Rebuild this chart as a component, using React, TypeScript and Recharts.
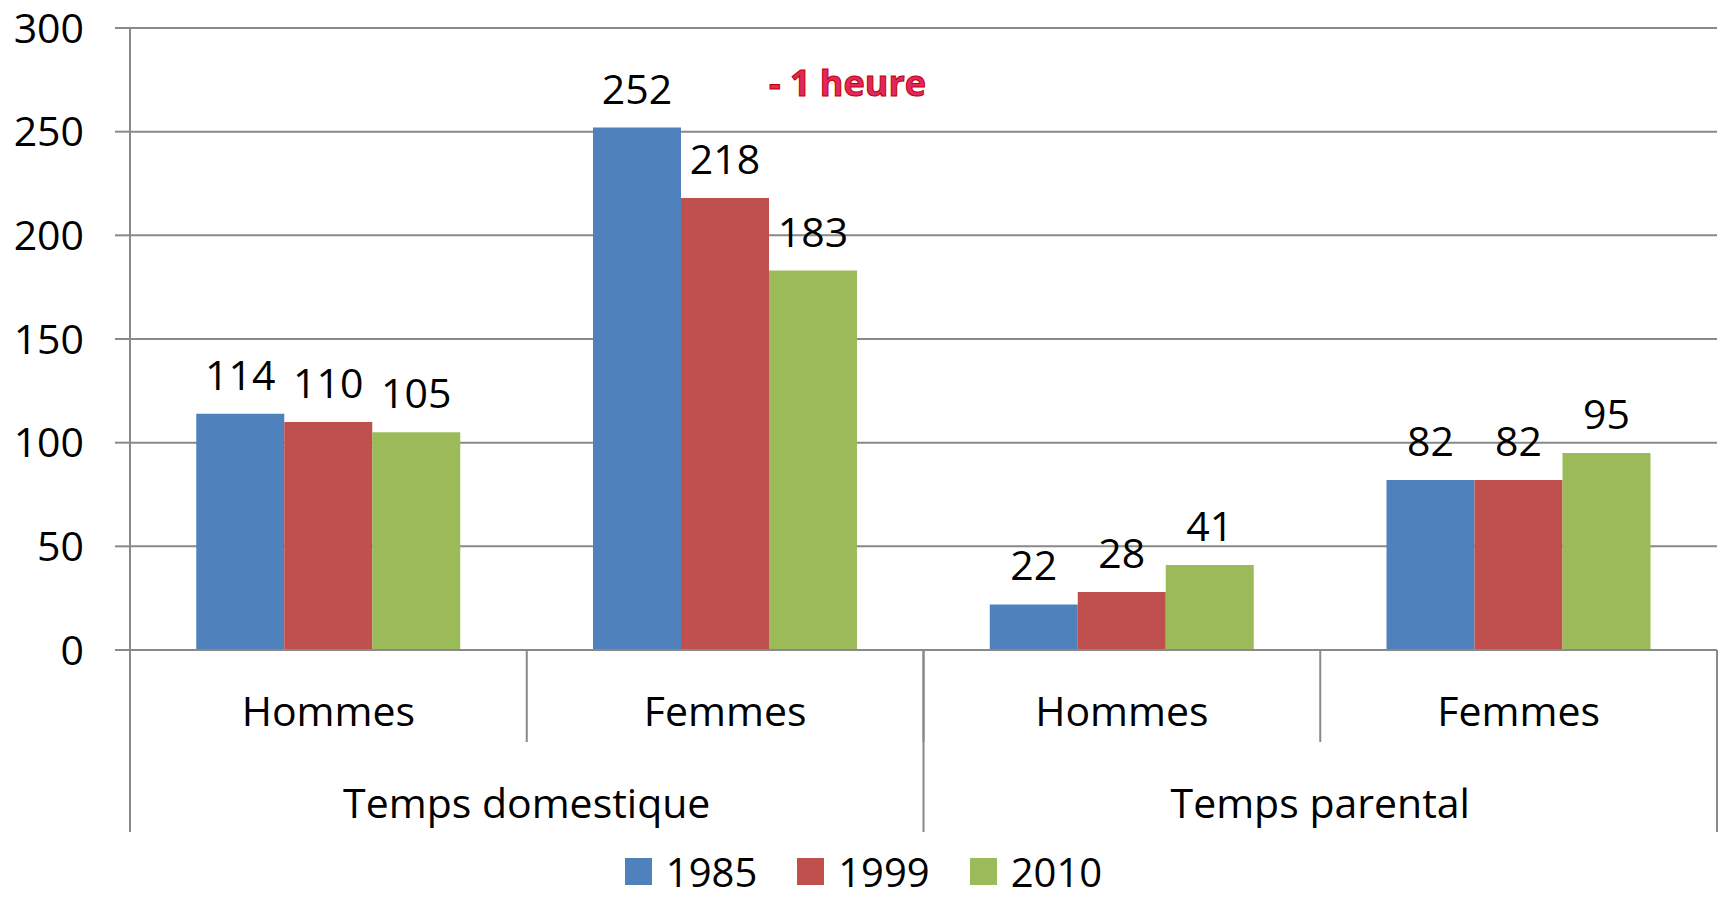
import React from 'react';
import { BarChart, Bar, XAxis, YAxis, CartesianGrid, Legend, LabelList } from 'recharts';

// categories (two-level axis)
const subCategories = ['Hommes', 'Femmes', 'Hommes', 'Femmes'];
const groupCategories = ['Temps domestique', 'Temps domestique', 'Temps parental', 'Temps parental'];

// series values (minutes per day)
const values1985 = [114, 252, 22, 82];
const values1999 = [110, 218, 28, 82];
const values2010 = [105, 183, 41, 95];

const yTicks = [0, 50, 100, 150, 200, 250, 300];

const seriesNames = ['1985', '1999', '2010'];
const seriesColors = ['#4F81BD', '#C0504D', '#9BBB59'];

const data = subCategories.map((sub, i) => ({
  sub,
  group: groupCategories[i],
  y1985: values1985[i],
  y1999: values1999[i],
  y2010: values2010[i],
}));

const W = 1723;
const H = 900;
const MARGIN = { top: 28, right: 6, bottom: 0, left: 0 };
const Y_AXIS_W = 130;
const SUB_AXIS_H = 92;
const GROUP_AXIS_H = 90;
const PLOT_W = W - MARGIN.left - MARGIN.right - Y_AXIS_W;
const GRID = '#898989';
const FONT = '"Open Sans", sans-serif';

const SubTick = (props: any) => {
  const { x, y, payload } = props;
  const band = PLOT_W / subCategories.length;
  const left = x - band / 2;
  return (
    <g>
      <line x1={left} x2={left} y1={y} y2={y + SUB_AXIS_H} stroke={GRID} strokeWidth={2} />
      <text x={x} y={y + 76} textAnchor="middle" fontSize={41} fill="#000" fontFamily={FONT}>
        {payload.value}
      </text>
    </g>
  );
};

const GroupTick = (props: any) => {
  const { x, y, payload, index } = props;
  const nGroups = new Set(groupCategories).size;
  const band = PLOT_W / nGroups;
  const left = x - band / 2;
  const right = x + band / 2;
  return (
    <g>
      <line x1={left} x2={left} y1={y - SUB_AXIS_H} y2={y + GROUP_AXIS_H} stroke={GRID} strokeWidth={2} />
      {index === nGroups - 1 && (
        <line x1={right} x2={right} y1={y - SUB_AXIS_H} y2={y + GROUP_AXIS_H} stroke={GRID} strokeWidth={2} />
      )}
      <text x={x} y={y + 76} textAnchor="middle" fontSize={41} fill="#000" fontFamily={FONT}>
        {payload.value}
      </text>
    </g>
  );
};

const LegendContent = () => (
  <div
    style={{
      height: 68,
      paddingTop: 12,
      boxSizing: 'border-box',
      display: 'flex',
      justifyContent: 'center',
      alignItems: 'flex-start',
      fontFamily: FONT,
      fontSize: 40,
      lineHeight: 'normal',
      paddingLeft: 10,
    }}
  >
    {seriesNames.map((name, i) => (
      <div key={name} style={{ display: 'flex', alignItems: 'center', marginRight: i < seriesNames.length - 1 ? 40 : 0 }}>
        <span style={{ width: 27, height: 27, background: seriesColors[i], display: 'inline-block', marginRight: 14 }} />
        <span>{name}</span>
      </div>
    ))}
  </div>
);

export default function App() {
  return (
    <div style={{ position: 'absolute', left: 0, top: 0, width: W, height: H, background: '#fff', fontFamily: FONT }}>
      <BarChart width={W} height={H} data={data} margin={MARGIN} barCategoryGap="16.7%" barGap={0}>
        <CartesianGrid vertical={false} stroke={GRID} strokeWidth={2} />
        <XAxis
          dataKey="sub"
          tickLine={false}
          tickSize={0}
          tickMargin={0}
          height={SUB_AXIS_H}
          axisLine={{ stroke: GRID, strokeWidth: 2 }}
          tick={<SubTick />}
          interval={0}
        />
        <XAxis
          dataKey="group"
          xAxisId="group"
          allowDuplicatedCategory={false}
          tickLine={false}
          tickSize={0}
          tickMargin={0}
          height={GROUP_AXIS_H}
          axisLine={false}
          tick={<GroupTick />}
          interval={0}
        />
        <YAxis
          width={Y_AXIS_W}
          domain={[0, 300]}
          ticks={yTicks}
          interval={0}
          tickSize={15}
          tickMargin={31}
          tickLine={{ stroke: GRID, strokeWidth: 2 }}
          axisLine={{ stroke: GRID, strokeWidth: 2 }}
          tick={{ fill: '#000', fontSize: 41, fontFamily: FONT }}
        />
        <Legend verticalAlign="bottom" height={68} content={<LegendContent />} />
        {(['y1985', 'y1999', 'y2010'] as const).map((key, i) => (
          <Bar key={key} dataKey={key} name={seriesNames[i]} fill={seriesColors[i]} isAnimationActive={false}>
            <LabelList dataKey={key} position="top" offset={24} fill="#000" fontSize={41} fontFamily={FONT} />
          </Bar>
        ))}
      </BarChart>
      <div
        style={{
          position: 'absolute',
          left: 769,
          top: 65,
          fontFamily: FONT,
          fontWeight: 700,
          fontSize: 36,
          lineHeight: 1,
          color: '#E2265F',
          WebkitTextStroke: '1px #C00000',
          whiteSpace: 'nowrap',
        }}
      >
        - 1 heure
      </div>
    </div>
  );
}
